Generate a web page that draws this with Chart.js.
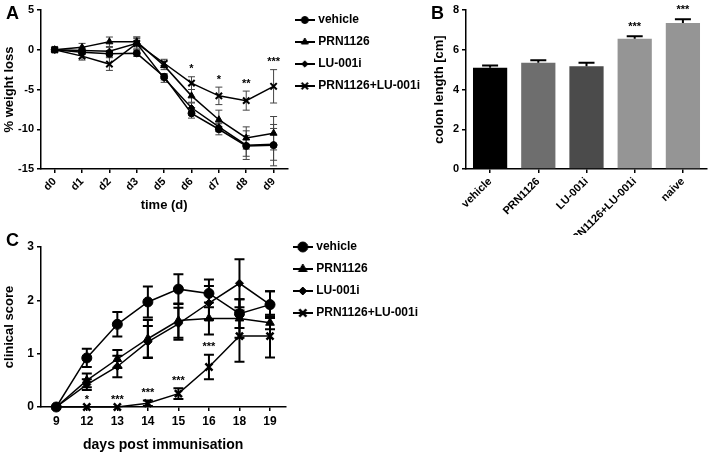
<!DOCTYPE html>
<html><head><meta charset="utf-8">
<script src="https://cdn.jsdelivr.net/npm/chart.js@4/dist/chart.umd.min.js"></script>
<style>
body{margin:0;background:#fff;width:709px;height:456px;overflow:hidden;position:relative;font-family:'Liberation Sans',Arial,sans-serif}
canvas{position:absolute}
.lbl{position:absolute;font-weight:bold;font-size:18px;color:#000}
</style></head><body>
<canvas id="a" width="432" height="216" style="left:0;top:0"></canvas>
<canvas id="b" width="289" height="235" style="left:420px;top:0"></canvas>
<canvas id="c" width="432" height="232" style="left:0;top:224px"></canvas>
<div class="lbl" style="left:6px;top:3px">A</div>
<div class="lbl" style="left:431px;top:3px">B</div>
<div class="lbl" style="left:6px;top:230px">C</div>
<script>
// panel A: % weight loss
const daysA = ['d0', 'd1', 'd2', 'd3', 'd5', 'd6', 'd7', 'd8', 'd9'];
const vehicleA = [0, -0.3, -0.5, -0.45, -3.4, -8.0, -10.0, -12.1, -12.0];
const vehicleAErr = [0, 0.3, 0.4, 0.4, 0.4, 0.6, 0.7, 1.3, 2.6];
const prnA = [0, 0.3, 1.0, 1.0, -2.0, -5.8, -8.8, -11.1, -10.5];
const prnAErr = [0, 0.5, 0.6, 0.6, 0.5, 0.8, 1.2, 1.4, 2.1];
const luA = [0, -0.1, -0.2, 0.8, -3.6, -7.3, -9.7, -12.0, -11.9];
const luAErr = [0, 0.4, 0.5, 0.6, 0.5, 0.6, 0.6, 1.8, 2.0];
const comboA = [0, -0.8, -1.8, 0.8, -1.7, -4.2, -5.8, -6.4, -4.6];
const comboAErr = [0, 0.5, 0.8, 0.8, 0.5, 0.8, 1.1, 1.2, 2.1];
const starsA = ['', '', '', '', '', '*', '*', '**', '***'];

// panel B: colon length
const groupsB = ['vehicle', 'PRN1126', 'LU-001i', 'PRN1126+LU-001i', 'naive'];
const lengthB = [5.1, 5.34, 5.17, 6.55, 7.35];
const lengthBErr = [0.11, 0.13, 0.18, 0.13, 0.19];
const colorsB = ['#000000', '#6e6e6e', '#4b4b4b', '#959595', '#959595'];
const starsB = ['', '', '', '***', '***'];

// panel C: clinical score
const daysC = ['9', '12', '13', '14', '15', '16', '18', '19'];
const vehicleC = [0, 0.92, 1.55, 1.97, 2.21, 2.13, 1.75, 1.92];
const vehicleCErr = [0, 0.17, 0.23, 0.29, 0.28, 0.26, 0.27, 0.25];
const prnC = [0, 0.5, 0.9, 1.28, 1.62, 1.66, 1.66, 1.58];
const prnCErr = [0, 0.13, 0.17, 0.35, 0.32, 0.3, 0.36, 0.12];
const luC = [0, 0.42, 0.76, 1.22, 1.56, 1.95, 2.32, 1.92];
const luCErr = [0, 0.1, 0.2, 0.3, 0.3, 0.32, 0.45, 0.25];
const comboC = [0, 0, 0, 0.07, 0.25, 0.75, 1.33, 1.33];
const comboCErr = [0, 0, 0, 0.05, 0.1, 0.23, 0.48, 0.4];
const starsC = ['', '*', '***', '***', '***', '***', '', ''];

const FONT = "'Liberation Sans', Arial, sans-serif";
Chart.defaults.font.family = FONT;
Chart.defaults.font.weight = 'bold';
Chart.defaults.color = '#000';

function drawErr(chart, o) {
  const ctx = chart.ctx, y = chart.scales.y;
  ctx.save();
  ctx.strokeStyle = o.color;
  ctx.lineWidth = o.width;
  chart.data.datasets.forEach((ds, i) => {
    if (!ds.errors) return;
    chart.getDatasetMeta(i).data.forEach((el, j) => {
      const e = ds.errors[j];
      if (!e) return;
      const top = y.getPixelForValue(ds.data[j] + e);
      const bot = y.getPixelForValue(o.upOnly ? ds.data[j] : ds.data[j] - e);
      const h = o.cap / 2;
      ctx.beginPath();
      ctx.moveTo(el.x, top); ctx.lineTo(el.x, bot);
      ctx.moveTo(el.x - h, top); ctx.lineTo(el.x + h, top);
      if (!o.upOnly) { ctx.moveTo(el.x - h, bot); ctx.lineTo(el.x + h, bot); }
      ctx.stroke();
    });
  });
  ctx.restore();
}

const errorBars = {
  id: 'errorBars',
  beforeDatasetsDraw(chart, args, o) { if (!o.onTop) drawErr(chart, o); },
  afterDatasetsDraw(chart, args, o) { if (o.onTop) drawErr(chart, o); }
};

const stars = {
  id: 'stars',
  afterDatasetsDraw(chart, args, o) {
    const ctx = chart.ctx, ds = chart.data.datasets[o.dataset];
    const meta = chart.getDatasetMeta(o.dataset);
    ctx.save();
    ctx.font = 'bold ' + o.size + 'px ' + FONT;
    ctx.fillStyle = '#000';
    ctx.textAlign = 'center';
    ctx.textBaseline = 'bottom';
    o.labels.forEach((s, j) => {
      if (!s) return;
      const top = chart.scales.y.getPixelForValue(ds.data[j] + (ds.errors[j] || 0));
      ctx.fillText(s, meta.data[j].x, top - o.gap);
    });
    ctx.restore();
  }
};

function legendIcon(style, r, bw) {
  const c = document.createElement('canvas');
  c.width = 20; c.height = 12;
  const g = c.getContext('2d');
  g.strokeStyle = '#000'; g.fillStyle = '#000';
  g.lineWidth = 2;
  g.beginPath(); g.moveTo(0, 6); g.lineTo(20, 6); g.stroke();
  g.lineWidth = bw;
  Chart.helpers.drawPoint(g, { pointStyle: style, radius: r, borderWidth: bw, rotation: 0 }, 10, 6);
  return c;
}

function lineSet(label, data, errors, style, r, bw) {
  return {
    label, data, errors,
    borderColor: '#000', backgroundColor: '#000', borderWidth: 1.5, tension: 0,
    pointStyle: style, pointRadius: r, pointBorderWidth: bw,
    pointBackgroundColor: '#000', pointBorderColor: '#000', clip: false,
    icon: legendIcon(style, r, bw)
  };
}

const legendOpts = {
  position: 'right', align: 'start', maxWidth: 200,
  labels: {
    usePointStyle: true, pointStyleWidth: 15, padding: 10,
    font: { size: 12, weight: 'bold' }, color: '#000',
    generateLabels: chart => chart.data.datasets.map((ds, i) => ({
      text: ds.label, pointStyle: ds.icon, fillStyle: '#000', strokeStyle: '#000',
      lineWidth: 0, hidden: false, datasetIndex: i, fontColor: '#000'
    }))
  }
};

function axis(extra) {
  return Object.assign({
    border: { color: '#000', width: 1.5 },
    grid: { drawOnChartArea: false, color: '#000', lineWidth: 1.5, tickLength: 4 },
  }, extra);
}

new Chart(document.getElementById('a'), {
  type: 'line',
  data: {
    labels: daysA,
    datasets: [
      lineSet('vehicle', vehicleA, vehicleAErr, 'circle', 3.5, 1),
      lineSet('PRN1126', prnA, prnAErr, 'triangle', 4, 1),
      lineSet('LU-001i', luA, luAErr, 'rectRot', 3.2, 1),
      lineSet('PRN1126+LU-001i', comboA, comboAErr, 'crossRot', 4.5, 2)
    ]
  },
  options: {
    responsive: false, animation: false, devicePixelRatio: 1,
    layout: { padding: { top: 4, left: 0, right: 2, bottom: 0 } },
    plugins: {
      legend: legendOpts, tooltip: { enabled: false },
      errorBars: { color: '#444', width: 1, cap: 7 },
      stars: { dataset: 3, labels: starsA, size: 11, gap: 2 }
    },
    scales: {
      x: axis({
        offset: true,
        ticks: { color: '#000', font: { size: 11, weight: 'bold' }, maxRotation: 45, minRotation: 45, padding: 2 },
        title: { display: true, text: 'time (d)', color: '#000', font: { size: 13, weight: 'bold' }, padding: { top: 0, bottom: 3 } },
        afterFit(s) { s.height = 47; }
      }),
      y: axis({
        min: -15, max: 5,
        ticks: { stepSize: 5, color: '#000', font: { size: 11, weight: 'bold' }, padding: 3 },
        title: { display: true, text: '% weight loss', color: '#000', font: { size: 13, weight: 'bold' }, padding: 2 },
        afterFit(s) { s.width = 41; s.paddingTop = 10; }
      })
    }
  },
  plugins: [errorBars, stars]
});

new Chart(document.getElementById('b'), {
  type: 'bar',
  data: {
    labels: groupsB,
    datasets: [{
      data: lengthB, errors: lengthBErr, backgroundColor: colorsB,
      barPercentage: 0.71, categoryPercentage: 1
    }]
  },
  options: {
    responsive: false, animation: false, devicePixelRatio: 1,
    layout: { padding: { top: 10, left: 10, right: 2, bottom: 0 } },
    plugins: {
      legend: { display: false }, tooltip: { enabled: false },
      errorBars: { color: '#000', width: 2, cap: 16, upOnly: true, onTop: true },
      stars: { dataset: 0, labels: starsB, size: 11, gap: 4 }
    },
    scales: {
      x: axis({
        grid: { drawOnChartArea: false, color: '#000', lineWidth: 1.5, tickLength: 4, offset: false },
        ticks: { color: '#000', font: { size: 11, weight: 'bold' }, maxRotation: 45, minRotation: 45, padding: 2 },
        afterFit(s) { s.height = 66; }
      }),
      y: axis({
        min: 0, max: 8,
        ticks: { stepSize: 2, color: '#000', font: { size: 11, weight: 'bold' }, padding: 3 },
        title: { display: true, text: 'colon length [cm]', color: '#000', font: { size: 13, weight: 'bold' }, padding: 2 },
        afterFit(s) { s.width = 36; s.paddingTop = 10; }
      })
    }
  },
  plugins: [errorBars, stars]
});

new Chart(document.getElementById('c'), {
  type: 'line',
  data: {
    labels: daysC,
    datasets: [
      lineSet('vehicle', vehicleC, vehicleCErr, 'circle', 5, 1),
      lineSet('PRN1126', prnC, prnCErr, 'triangle', 5, 1),
      lineSet('LU-001i', luC, luCErr, 'rectRot', 4, 1),
      lineSet('PRN1126+LU-001i', comboC, comboCErr, 'crossRot', 5, 2.5)
    ]
  },
  options: {
    responsive: false, animation: false, devicePixelRatio: 1,
    layout: { padding: { top: 7, left: 0, right: 4, bottom: 0 } },
    plugins: {
      legend: legendOpts, tooltip: { enabled: false },
      errorBars: { color: '#000', width: 2, cap: 10 },
      stars: { dataset: 3, labels: starsC, size: 11, gap: 2 }
    },
    scales: {
      x: axis({
        offset: true,
        ticks: { color: '#000', font: { size: 12, weight: 'bold' }, maxRotation: 0, padding: 3 },
        title: { display: true, text: 'days post immunisation', color: '#000', font: { size: 14, weight: 'bold' }, padding: { top: 0, bottom: 2 } },
        afterFit(s) { s.height = 49; }
      }),
      y: axis({
        min: 0, max: 3,
        ticks: { stepSize: 1, color: '#000', font: { size: 12, weight: 'bold' }, padding: 3 },
        title: { display: true, text: 'clinical score', color: '#000', font: { size: 13, weight: 'bold' }, padding: 2 },
        afterFit(s) { s.width = 41; s.paddingTop = 23; }
      })
    }
  },
  plugins: [errorBars, stars]
});
</script>
</body></html>
